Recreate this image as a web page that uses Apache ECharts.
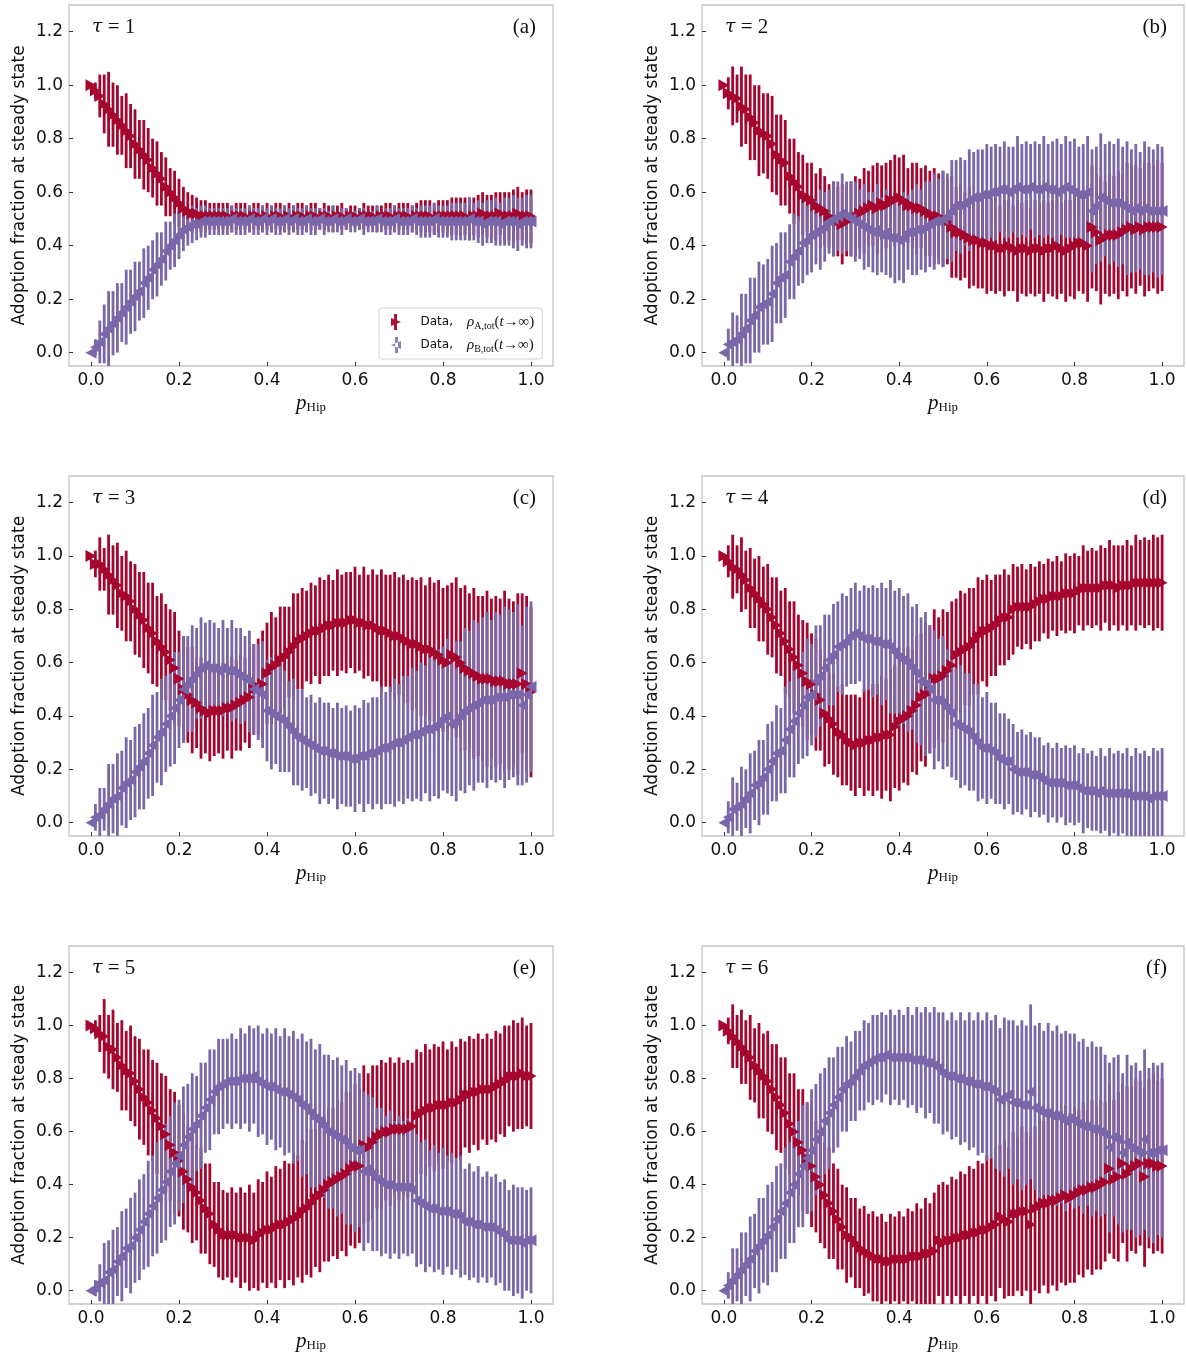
<!DOCTYPE html>
<html>
<head>
<meta charset="utf-8">
<script src="https://cdn.jsdelivr.net/npm/echarts@6/dist/echarts.min.js"></script>
<style>
html,body{margin:0;padding:0;background:#fff}
#main{width:1186px;height:1353px}
</style>
</head>
<body>
<div id="main"></div>
<script>
// p_Hip values (x)
var pHip = [0.00,0.01,0.02,0.03,0.04,0.05,0.06,0.07,0.08,0.09,
  0.10,0.11,0.12,0.13,0.14,0.15,0.16,0.17,0.18,0.19,
  0.20,0.21,0.22,0.23,0.24,0.25,0.26,0.27,0.28,0.29,
  0.30,0.31,0.32,0.33,0.34,0.35,0.36,0.37,0.38,0.39,
  0.40,0.41,0.42,0.43,0.44,0.45,0.46,0.47,0.48,0.49,
  0.50,0.51,0.52,0.53,0.54,0.55,0.56,0.57,0.58,0.59,
  0.60,0.61,0.62,0.63,0.64,0.65,0.66,0.67,0.68,0.69,
  0.70,0.71,0.72,0.73,0.74,0.75,0.76,0.77,0.78,0.79,
  0.80,0.81,0.82,0.83,0.84,0.85,0.86,0.87,0.88,0.89,
  0.90,0.91,0.92,0.93,0.94,0.95,0.96,0.97,0.98,0.99,
  1.00];
var xTicks = [0, 0.2, 0.4, 0.6, 0.8, 1.0];
var yTicks = [0, 0.2, 0.4, 0.6, 0.8, 1.0, 1.2];
var tauValues = [1, 2, 3, 4, 5, 6];
var panelTags = ['(a)', '(b)', '(c)', '(d)', '(e)', '(f)'];

// tau = 1
var rhoA1 = [1.00,0.98,0.96,0.93,0.91,0.89,0.87,0.85,0.83,0.81,
  0.78,0.76,0.74,0.72,0.69,0.67,0.65,0.62,0.60,0.58,
  0.56,0.54,0.53,0.52,0.52,0.51,0.51,0.51,0.51,0.51,
  0.51,0.51,0.50,0.51,0.51,0.51,0.50,0.51,0.51,0.50,
  0.51,0.50,0.51,0.51,0.50,0.51,0.50,0.51,0.51,0.50,
  0.51,0.51,0.50,0.51,0.51,0.50,0.51,0.51,0.50,0.51,
  0.51,0.50,0.51,0.51,0.51,0.50,0.51,0.51,0.51,0.50,
  0.51,0.51,0.51,0.50,0.51,0.51,0.51,0.51,0.50,0.51,
  0.51,0.51,0.51,0.51,0.51,0.51,0.50,0.51,0.51,0.52,
  0.51,0.51,0.51,0.52,0.51,0.51,0.51,0.52,0.51,0.51,
  0.51];
var rhoB1 = [0.00,0.02,0.04,0.07,0.09,0.11,0.13,0.15,0.17,0.19,
  0.21,0.23,0.26,0.28,0.31,0.33,0.35,0.38,0.40,0.42,
  0.44,0.46,0.47,0.48,0.48,0.49,0.49,0.49,0.49,0.49,
  0.49,0.49,0.50,0.49,0.49,0.49,0.50,0.49,0.49,0.50,
  0.49,0.50,0.49,0.49,0.50,0.49,0.50,0.49,0.49,0.50,
  0.49,0.49,0.50,0.49,0.49,0.50,0.49,0.49,0.50,0.49,
  0.49,0.50,0.49,0.49,0.49,0.50,0.49,0.49,0.49,0.50,
  0.49,0.49,0.49,0.50,0.49,0.49,0.49,0.49,0.50,0.49,
  0.49,0.49,0.49,0.49,0.49,0.49,0.50,0.49,0.49,0.48,
  0.49,0.49,0.49,0.48,0.49,0.49,0.49,0.48,0.49,0.49,
  0.49];
var err1 = [0.00,0.03,0.08,0.11,0.14,0.12,0.13,0.11,0.14,0.12,
  0.13,0.11,0.13,0.12,0.11,0.12,0.10,0.11,0.09,0.10,
  0.09,0.08,0.07,0.07,0.06,0.06,0.06,0.05,0.05,0.05,
  0.05,0.05,0.05,0.05,0.05,0.05,0.05,0.05,0.05,0.05,
  0.05,0.05,0.05,0.05,0.05,0.05,0.05,0.05,0.05,0.05,
  0.05,0.05,0.04,0.05,0.04,0.05,0.04,0.05,0.04,0.04,
  0.04,0.04,0.05,0.04,0.04,0.05,0.04,0.05,0.05,0.05,
  0.05,0.05,0.05,0.05,0.05,0.06,0.06,0.06,0.06,0.06,
  0.06,0.06,0.07,0.07,0.07,0.07,0.08,0.07,0.08,0.08,
  0.08,0.08,0.09,0.08,0.09,0.09,0.10,0.10,0.09,0.10,
  0.10];

// tau = 2
var rhoA2 = [1.00,0.97,0.96,0.95,0.92,0.91,0.88,0.86,0.83,0.82,
  0.81,0.78,0.74,0.72,0.71,0.66,0.64,0.62,0.59,0.58,
  0.57,0.55,0.54,0.53,0.51,0.50,0.49,0.48,0.49,0.50,
  0.51,0.52,0.53,0.54,0.55,0.54,0.56,0.55,0.57,0.57,
  0.58,0.57,0.55,0.55,0.54,0.54,0.53,0.52,0.51,0.51,
  0.50,0.49,0.47,0.45,0.45,0.44,0.43,0.42,0.42,0.41,
  0.41,0.40,0.40,0.39,0.39,0.40,0.39,0.38,0.39,0.39,
  0.38,0.39,0.39,0.38,0.39,0.39,0.40,0.39,0.38,0.39,
  0.40,0.41,0.41,0.40,0.47,0.45,0.42,0.43,0.44,0.44,
  0.44,0.45,0.46,0.47,0.46,0.47,0.46,0.47,0.47,0.47,
  0.47];
var rhoB2 = [0.00,0.03,0.04,0.05,0.07,0.09,0.12,0.14,0.17,0.18,
  0.19,0.22,0.26,0.28,0.29,0.34,0.36,0.38,0.41,0.42,
  0.44,0.45,0.46,0.47,0.49,0.50,0.51,0.52,0.51,0.50,
  0.49,0.48,0.47,0.46,0.45,0.46,0.44,0.45,0.43,0.43,
  0.42,0.43,0.45,0.45,0.46,0.46,0.47,0.48,0.49,0.49,
  0.50,0.51,0.53,0.55,0.55,0.56,0.57,0.58,0.58,0.59,
  0.59,0.60,0.60,0.61,0.61,0.60,0.61,0.62,0.61,0.61,
  0.62,0.61,0.61,0.62,0.61,0.61,0.60,0.61,0.62,0.61,
  0.60,0.59,0.59,0.60,0.53,0.55,0.58,0.57,0.56,0.56,
  0.56,0.55,0.54,0.53,0.54,0.53,0.54,0.53,0.53,0.53,
  0.53];
var err2 = [0.00,0.06,0.11,0.09,0.15,0.13,0.16,0.14,0.17,0.15,
  0.16,0.18,0.15,0.17,0.16,0.14,0.16,0.13,0.15,0.13,
  0.14,0.12,0.15,0.13,0.12,0.14,0.13,0.15,0.13,0.14,
  0.15,0.13,0.16,0.14,0.15,0.17,0.14,0.16,0.15,0.17,
  0.15,0.17,0.14,0.16,0.17,0.15,0.17,0.16,0.18,0.16,
  0.18,0.16,0.19,0.17,0.18,0.16,0.19,0.17,0.18,0.17,
  0.19,0.17,0.18,0.16,0.18,0.17,0.16,0.19,0.17,0.18,
  0.16,0.18,0.17,0.19,0.17,0.18,0.20,0.17,0.19,0.18,
  0.20,0.18,0.19,0.21,0.23,0.22,0.24,0.21,0.23,0.22,
  0.24,0.22,0.25,0.23,0.24,0.22,0.25,0.24,0.23,0.25,
  0.24];

// tau = 3
var rhoA3 = [1.00,0.97,0.97,0.95,0.93,0.91,0.89,0.86,0.85,0.83,
  0.80,0.78,0.76,0.73,0.71,0.68,0.66,0.64,0.61,0.58,
  0.54,0.50,0.48,0.46,0.45,0.43,0.42,0.41,0.42,0.42,
  0.42,0.43,0.43,0.44,0.45,0.46,0.47,0.50,0.51,0.52,
  0.56,0.58,0.59,0.61,0.62,0.64,0.66,0.68,0.69,0.70,
  0.71,0.72,0.72,0.73,0.74,0.74,0.75,0.75,0.75,0.76,
  0.76,0.75,0.75,0.74,0.74,0.73,0.72,0.72,0.71,0.70,
  0.70,0.69,0.68,0.67,0.67,0.66,0.65,0.65,0.64,0.63,
  0.61,0.60,0.63,0.62,0.60,0.58,0.57,0.56,0.55,0.54,
  0.54,0.54,0.53,0.53,0.53,0.52,0.52,0.52,0.56,0.52,
  0.49];
var rhoB3 = [0.00,0.02,0.03,0.05,0.07,0.09,0.10,0.13,0.15,0.16,
  0.19,0.21,0.23,0.26,0.29,0.32,0.34,0.37,0.40,0.43,
  0.46,0.50,0.52,0.54,0.56,0.58,0.59,0.58,0.58,0.57,
  0.58,0.57,0.57,0.56,0.55,0.54,0.53,0.50,0.49,0.48,
  0.42,0.41,0.40,0.39,0.38,0.36,0.34,0.32,0.31,0.30,
  0.29,0.28,0.27,0.27,0.26,0.26,0.25,0.25,0.25,0.24,
  0.24,0.25,0.25,0.26,0.26,0.27,0.28,0.28,0.29,0.30,
  0.30,0.31,0.32,0.33,0.33,0.34,0.35,0.35,0.36,0.37,
  0.39,0.40,0.37,0.38,0.40,0.42,0.43,0.44,0.45,0.46,
  0.46,0.46,0.47,0.47,0.47,0.48,0.48,0.48,0.44,0.48,
  0.51];
var err3 = [0.00,0.05,0.10,0.08,0.15,0.13,0.16,0.14,0.17,0.15,
  0.17,0.16,0.18,0.17,0.19,0.17,0.20,0.18,0.19,0.21,
  0.18,0.20,0.18,0.20,0.17,0.19,0.16,0.18,0.17,0.16,
  0.18,0.16,0.19,0.17,0.18,0.16,0.19,0.17,0.18,0.20,
  0.19,0.21,0.18,0.20,0.19,0.17,0.20,0.18,0.19,0.17,
  0.19,0.17,0.20,0.18,0.19,0.17,0.20,0.18,0.19,0.18,
  0.20,0.18,0.21,0.19,0.21,0.20,0.23,0.21,0.22,0.24,
  0.22,0.24,0.23,0.25,0.24,0.26,0.24,0.27,0.26,0.28,
  0.27,0.29,0.27,0.30,0.28,0.31,0.29,0.32,0.30,0.31,
  0.33,0.30,0.32,0.31,0.34,0.32,0.31,0.34,0.30,0.33,
  0.32];

// tau = 4
var rhoA4 = [1.00,0.98,0.96,0.95,0.93,0.91,0.88,0.86,0.84,0.82,
  0.80,0.77,0.74,0.71,0.68,0.65,0.62,0.59,0.56,0.53,
  0.52,0.48,0.46,0.41,0.39,0.37,0.34,0.33,0.31,0.30,
  0.29,0.30,0.30,0.31,0.31,0.32,0.32,0.33,0.33,0.36,
  0.38,0.39,0.40,0.42,0.44,0.47,0.48,0.50,0.54,0.54,
  0.55,0.57,0.59,0.63,0.64,0.65,0.66,0.68,0.70,0.72,
  0.72,0.73,0.74,0.76,0.77,0.77,0.80,0.81,0.81,0.81,
  0.81,0.82,0.83,0.84,0.84,0.85,0.85,0.85,0.86,0.86,
  0.86,0.87,0.88,0.88,0.88,0.88,0.88,0.89,0.89,0.89,
  0.88,0.89,0.89,0.89,0.90,0.90,0.90,0.90,0.90,0.90,
  0.90];
var rhoB4 = [0.00,0.02,0.05,0.06,0.07,0.09,0.11,0.14,0.15,0.17,
  0.20,0.23,0.26,0.27,0.31,0.35,0.38,0.41,0.44,0.47,
  0.48,0.53,0.55,0.58,0.61,0.63,0.66,0.67,0.68,0.70,
  0.71,0.70,0.69,0.69,0.68,0.68,0.67,0.67,0.66,0.64,
  0.62,0.61,0.60,0.58,0.56,0.53,0.52,0.50,0.46,0.46,
  0.45,0.43,0.41,0.37,0.36,0.35,0.34,0.32,0.30,0.28,
  0.28,0.27,0.26,0.24,0.23,0.23,0.20,0.19,0.19,0.19,
  0.18,0.18,0.17,0.16,0.15,0.15,0.15,0.15,0.14,0.14,
  0.14,0.13,0.12,0.12,0.12,0.11,0.12,0.11,0.11,0.11,
  0.11,0.11,0.11,0.10,0.10,0.10,0.10,0.09,0.10,0.10,
  0.10];
var err4 = [0.00,0.06,0.12,0.09,0.14,0.11,0.15,0.13,0.16,0.14,
  0.17,0.15,0.18,0.16,0.20,0.18,0.21,0.19,0.20,0.22,
  0.19,0.21,0.19,0.20,0.17,0.19,0.17,0.19,0.17,0.18,
  0.19,0.17,0.20,0.19,0.21,0.20,0.23,0.21,0.25,0.23,
  0.26,0.24,0.26,0.23,0.26,0.24,0.27,0.24,0.26,0.23,
  0.25,0.22,0.24,0.21,0.23,0.21,0.22,0.20,0.22,0.19,
  0.21,0.18,0.19,0.17,0.18,0.16,0.17,0.15,0.16,0.14,
  0.16,0.14,0.15,0.13,0.15,0.13,0.15,0.13,0.15,0.14,
  0.15,0.13,0.16,0.14,0.15,0.14,0.16,0.14,0.17,0.15,
  0.16,0.15,0.17,0.15,0.18,0.16,0.17,0.16,0.18,0.17,
  0.18];

// tau = 5
var rhoA5 = [1.00,0.99,0.97,0.96,0.92,0.91,0.88,0.85,0.83,0.82,
  0.79,0.76,0.73,0.71,0.68,0.65,0.62,0.59,0.55,0.52,
  0.49,0.45,0.42,0.39,0.37,0.34,0.31,0.29,0.25,0.23,
  0.21,0.21,0.21,0.21,0.20,0.20,0.20,0.19,0.21,0.22,
  0.23,0.23,0.24,0.25,0.25,0.26,0.27,0.28,0.30,0.31,
  0.33,0.35,0.36,0.38,0.40,0.41,0.42,0.43,0.44,0.46,
  0.47,0.47,0.55,0.54,0.56,0.58,0.59,0.60,0.60,0.61,
  0.61,0.61,0.61,0.62,0.66,0.67,0.68,0.69,0.69,0.70,
  0.70,0.70,0.71,0.71,0.72,0.74,0.74,0.75,0.75,0.76,
  0.76,0.76,0.77,0.78,0.79,0.81,0.81,0.81,0.82,0.81,
  0.81];
var rhoB5 = [0.00,0.01,0.03,0.04,0.07,0.08,0.11,0.13,0.16,0.17,
  0.20,0.23,0.26,0.29,0.32,0.35,0.38,0.41,0.45,0.48,
  0.51,0.55,0.58,0.61,0.63,0.66,0.69,0.72,0.75,0.77,
  0.78,0.79,0.79,0.79,0.80,0.80,0.80,0.81,0.79,0.78,
  0.77,0.77,0.76,0.75,0.75,0.74,0.73,0.72,0.70,0.69,
  0.67,0.65,0.64,0.62,0.60,0.59,0.58,0.57,0.56,0.54,
  0.53,0.53,0.45,0.46,0.44,0.42,0.41,0.40,0.40,0.39,
  0.39,0.39,0.39,0.38,0.34,0.33,0.32,0.31,0.31,0.30,
  0.30,0.30,0.29,0.29,0.28,0.26,0.26,0.25,0.25,0.24,
  0.24,0.24,0.23,0.22,0.21,0.19,0.19,0.19,0.18,0.19,
  0.19];
var err5 = [0.00,0.03,0.07,0.14,0.12,0.15,0.13,0.17,0.15,0.18,
  0.17,0.19,0.18,0.20,0.19,0.21,0.20,0.22,0.21,0.23,
  0.21,0.22,0.20,0.21,0.18,0.20,0.17,0.19,0.16,0.18,
  0.17,0.16,0.18,0.16,0.19,0.17,0.20,0.18,0.21,0.19,
  0.22,0.20,0.23,0.21,0.24,0.22,0.25,0.23,0.27,0.25,
  0.28,0.26,0.29,0.27,0.29,0.28,0.30,0.28,0.31,0.29,
  0.31,0.29,0.30,0.28,0.29,0.27,0.28,0.26,0.28,0.25,
  0.27,0.25,0.26,0.24,0.25,0.23,0.25,0.22,0.24,0.22,
  0.24,0.21,0.23,0.21,0.23,0.20,0.22,0.20,0.22,0.19,
  0.21,0.19,0.21,0.19,0.21,0.19,0.21,0.20,0.21,0.19,
  0.20];

// tau = 6
var rhoA6 = [1.00,0.98,0.96,0.94,0.92,0.90,0.88,0.85,0.83,0.81,
  0.79,0.76,0.73,0.70,0.67,0.63,0.60,0.56,0.53,0.50,
  0.47,0.43,0.40,0.36,0.33,0.30,0.27,0.24,0.21,0.20,
  0.18,0.16,0.15,0.14,0.13,0.12,0.12,0.11,0.11,0.12,
  0.12,0.12,0.12,0.13,0.13,0.13,0.14,0.14,0.15,0.19,
  0.18,0.19,0.19,0.20,0.20,0.21,0.21,0.22,0.22,0.23,
  0.23,0.24,0.25,0.28,0.27,0.26,0.29,0.29,0.30,0.30,
  0.25,0.31,0.32,0.33,0.33,0.34,0.34,0.35,0.36,0.35,
  0.36,0.37,0.38,0.38,0.39,0.39,0.40,0.41,0.46,0.42,
  0.43,0.48,0.44,0.46,0.47,0.48,0.43,0.48,0.48,0.47,
  0.47];
var rhoB6 = [0.00,0.02,0.04,0.06,0.08,0.10,0.12,0.15,0.17,0.19,
  0.21,0.24,0.27,0.30,0.33,0.37,0.40,0.44,0.47,0.50,
  0.53,0.57,0.60,0.64,0.67,0.70,0.73,0.76,0.78,0.79,
  0.81,0.83,0.85,0.86,0.87,0.88,0.88,0.89,0.88,0.88,
  0.88,0.88,0.88,0.87,0.87,0.87,0.86,0.86,0.85,0.84,
  0.82,0.81,0.81,0.80,0.80,0.79,0.79,0.78,0.78,0.77,
  0.77,0.76,0.75,0.72,0.73,0.74,0.71,0.71,0.70,0.70,
  0.75,0.69,0.68,0.67,0.67,0.66,0.66,0.65,0.64,0.65,
  0.64,0.63,0.62,0.62,0.61,0.61,0.60,0.59,0.54,0.58,
  0.57,0.52,0.56,0.54,0.53,0.52,0.57,0.52,0.52,0.53,
  0.53];
var err6 = [0.00,0.05,0.12,0.10,0.14,0.12,0.16,0.14,0.18,0.16,
  0.19,0.17,0.20,0.18,0.21,0.19,0.22,0.20,0.23,0.21,
  0.23,0.21,0.22,0.20,0.21,0.18,0.19,0.16,0.18,0.15,
  0.17,0.15,0.17,0.15,0.17,0.16,0.17,0.15,0.18,0.16,
  0.18,0.16,0.19,0.17,0.20,0.18,0.21,0.19,0.22,0.21,
  0.23,0.21,0.24,0.22,0.25,0.23,0.26,0.24,0.27,0.25,
  0.28,0.26,0.29,0.27,0.30,0.28,0.31,0.29,0.32,0.30,
  0.33,0.31,0.33,0.31,0.34,0.32,0.34,0.32,0.34,0.32,
  0.33,0.31,0.33,0.30,0.33,0.31,0.32,0.30,0.32,0.30,
  0.32,0.30,0.33,0.31,0.33,0.31,0.34,0.32,0.34,0.32,
  0.33];

var rhoA = [rhoA1, rhoA2, rhoA3, rhoA4, rhoA5, rhoA6];
var rhoB = [rhoB1, rhoB2, rhoB3, rhoB4, rhoB5, rhoB6];
var errs = [err1, err2, err3, err4, err5, err6];

var red = '#a6052e';
var purple = '#7a67a9';
var sans = 'DejaVu Sans';
var serif = 'Liberation Serif';

// panel boxes in pixels
var colLeft = [69, 702];
var colWidth = [484, 482];
var rowTop = [5, 476, 946];
var rowHeight = [361, 360, 360];

var triRight = 'path://M0,0L10,5L0,10Z';
var triLeft = 'path://M10,0L0,5L10,10Z';

// one vertical errorbar per point
function renderBar(params, api) {
    var p1 = api.coord([api.value(0), api.value(1)]);
    var p2 = api.coord([api.value(0), api.value(2)]);
    return {
        type: 'line',
        shape: {x1: p1[0], y1: p1[1], x2: p2[0], y2: p2[1]},
        style: {stroke: api.visual('color'), lineWidth: 2.8, opacity: api.visual('opacity')}
    };
}

function barData(mean, err) {
    return pHip.map(function (x, i) { return [x, mean[i] - err[i], mean[i] + err[i]]; });
}
function pointData(mean) {
    return pHip.map(function (x, i) { return [x, mean[i]]; });
}
function fmt(v) { return v.toFixed(1); }

function buildOption() {
    var grids = [], xAxes = [], yAxes = [], series = [], graphics = [];
    for (var k = 0; k < 6; k++) {
        var col = k % 2, row = Math.floor(k / 2);
        var gx = colLeft[col], gy = rowTop[row], gw = colWidth[col], gh = rowHeight[row];
        grids.push({left: gx, top: gy, width: gw, height: gh, show: true,
            borderColor: '#c4c4c4', borderWidth: 1.3, backgroundColor: 'transparent'});
        xAxes.push({
            type: 'value', gridIndex: k, min: -0.05, max: 1.05,
            name: '{p|p}{s|Hip}', nameLocation: 'middle', nameGap: 26,
            nameTextStyle: {rich: {
                p: {fontFamily: serif, fontStyle: 'italic', fontSize: 21, lineHeight: 22, color: '#111'},
                s: {fontFamily: serif, fontSize: 13, lineHeight: 14, verticalAlign: 'bottom', color: '#111'}
            }},
            axisLine: {show: false, onZero: false},
            axisTick: {show: true, inside: true, length: 4, customValues: xTicks, lineStyle: {color: '#333'}},
            axisLabel: {customValues: xTicks, fontFamily: sans, fontSize: 17, color: '#111', margin: 6, formatter: fmt},
            splitLine: {show: false}
        });
        yAxes.push({
            type: 'value', gridIndex: k, min: -0.05, max: 1.3,
            name: 'Adoption fraction at steady state', nameLocation: 'middle', nameGap: 41,
            nameTextStyle: {fontFamily: sans, fontSize: 17, color: '#111'},
            axisLine: {show: false, onZero: false},
            axisTick: {show: true, inside: true, length: 4, customValues: yTicks, lineStyle: {color: '#333'}},
            axisLabel: {customValues: yTicks, fontFamily: sans, fontSize: 17, color: '#111', margin: 6, formatter: fmt},
            splitLine: {show: false}
        });
        var nameA = k === 0 ? 'A' : 'A' + k;
        var nameB = k === 0 ? 'B' : 'B' + k;
        series.push({type: 'custom', name: nameA, xAxisIndex: k, yAxisIndex: k, clip: true, z: 2, silent: true,
            itemStyle: {color: red, opacity: 0.95}, renderItem: renderBar, data: barData(rhoA[k], errs[k])});
        series.push({type: 'custom', name: nameB, xAxisIndex: k, yAxisIndex: k, clip: true, z: 3, silent: true,
            itemStyle: {color: purple, opacity: 0.85}, renderItem: renderBar, data: barData(rhoB[k], errs[k])});
        series.push({type: 'scatter', name: nameA, xAxisIndex: k, yAxisIndex: k, clip: true, z: 4, silent: true,
            symbol: triRight, symbolSize: [11, 12], itemStyle: {color: red, opacity: 1},
            data: pointData(rhoA[k])});
        series.push({type: 'scatter', name: nameB, xAxisIndex: k, yAxisIndex: k, clip: true, z: 5, silent: true,
            symbol: triLeft, symbolSize: [11, 12], itemStyle: {color: purple, opacity: 1},
            data: pointData(rhoB[k])});

        graphics.push({type: 'text', left: gx + 23, top: gy + 12, z: 10,
            style: {text: '{i|τ}{r| = ' + tauValues[k] + '}', rich: {
                i: {fontFamily: 'DejaVu Serif', fontStyle: 'italic', fontSize: 19, fill: '#111'},
                r: {fontFamily: serif, fontSize: 21, fill: '#111'}
            }}});
        graphics.push({type: 'text', right: 1186 - (gx + gw) + 17, top: gy + 12, z: 10,
            style: {text: panelTags[k], fontFamily: serif, fontSize: 21, fill: '#111'}});
    }

    return {
        animation: false,
        backgroundColor: '#fff',
        grid: grids,
        xAxis: xAxes,
        yAxis: yAxes,
        legend: {
            left: 379, top: 308, orient: 'vertical', itemGap: 6,
            padding: [6, 8, 5, 12], borderColor: '#d0d0d0', borderWidth: 1, borderRadius: 3,
            backgroundColor: '#fff', itemWidth: 11, itemHeight: 16, selectedMode: false,
            data: [
                {name: 'A', icon: 'path://M4,0L7,0L7,16L4,16Z M1,4L11,8L1,12Z', itemStyle: {color: red}},
                {name: 'B', icon: 'path://M4,0L7,0L7,16L4,16Z M10,4L0,8L10,12Z', itemStyle: {color: purple}}
            ],
            formatter: function (name) {
                var s = name === 'A' ? 'A,tot' : 'B,tot';
                return '{d|Data,}{r|ρ}{sub|' + s + '}{u|(}{r|t}{u|→∞)}';
            },
            textStyle: {rich: {
                d: {fontFamily: sans, fontSize: 12, color: '#111', lineHeight: 18, padding: [0, 14, 0, 14]},
                r: {fontFamily: serif, fontStyle: 'italic', fontSize: 15, color: '#111', lineHeight: 18},
                u: {fontFamily: serif, fontSize: 15, color: '#111', lineHeight: 18},
                sub: {fontFamily: serif, fontSize: 10, color: '#111', lineHeight: 12, verticalAlign: 'bottom'}
            }}
        },
        graphic: graphics,
        series: series
    };
}

var chart = echarts.init(document.getElementById('main'));
chart.setOption(buildOption());
</script>
</body>
</html>
